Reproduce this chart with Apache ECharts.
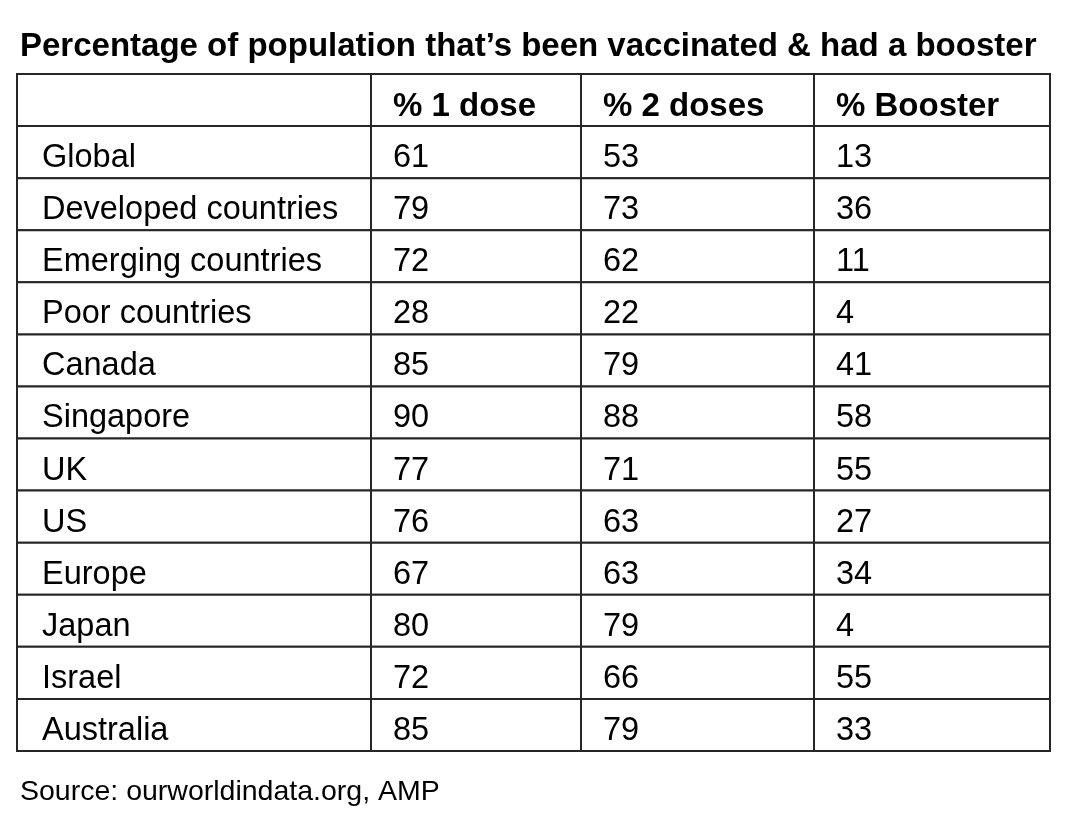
<!DOCTYPE html>
<html>
<head>
<meta charset="utf-8">
<script src="https://cdn.jsdelivr.net/npm/echarts@6/dist/echarts.min.js"></script>
<style>
  html, body { margin: 0; padding: 0; background: #fff; }
</style>
</head>
<body>
<div id="main" style="width:1077px;height:816px;"></div>
<script type="text/javascript">
	// 表格数据
	var headers = ['', '% 1 dose', '% 2 doses', '% Booster'];
	var regions = ['Global', 'Developed countries', 'Emerging countries', 'Poor countries', 'Canada',
		'Singapore', 'UK', 'US', 'Europe', 'Japan', 'Israel', 'Australia'];
	var oneDose = [61, 79, 72, 28, 85, 90, 77, 76, 67, 80, 72, 85];
	var twoDoses = [53, 73, 62, 22, 79, 88, 71, 63, 63, 79, 66, 79];
	var booster = [13, 36, 11, 4, 41, 58, 55, 27, 34, 4, 55, 33];

	// 列边界（像素），x 轴按像素刻度
	var colEdges = [0, 354, 564, 797, 1033];
	var font = '"Liberation Sans", Arial, sans-serif';

	// 行：表头 + 各地区
	var rows = ['header'].concat(regions);
	var cells = [];
	headers.forEach(function (h, c) { cells.push([c, 0, h, 1]); });
	regions.forEach(function (r, i) {
		cells.push([0, i + 1, r, 0]);
		cells.push([1, i + 1, String(oneDose[i]), 0]);
		cells.push([2, i + 1, String(twoDoses[i]), 0]);
		cells.push([3, i + 1, String(booster[i]), 0]);
	});

	var myEcharts = echarts.init(document.getElementById('main'));
	myEcharts.setOption({
		animation: false,
		title: [{
			text: 'Percentage of population that\u2019s been vaccinated & had a booster',
			left: 15, top: 25,
			textStyle: {fontFamily: font, fontSize: 33, fontWeight: 'bold', color: '#000', lineHeight: 33}
		}, {
			text: 'Source: ourworldindata.org, AMP',
			left: 15, top: 773,
			textStyle: {fontFamily: font, fontSize: 28.5, fontWeight: 'normal', color: '#000', lineHeight: 29}
		}],
		grid: {left: 17, right: 27, top: 74, bottom: 65},
		xAxis: {type: 'value', min: 0, max: colEdges[colEdges.length - 1], show: false},
		yAxis: {type: 'category', data: rows, inverse: true, show: false},
		series: [{
			type: 'custom',
			data: cells,
			renderItem: function (params, api) {
				var c = api.value(0);
				var r = api.value(1);
				var p0 = api.coord([colEdges[c], r]);
				var p1 = api.coord([colEdges[c + 1], r]);
				var h = api.size([0, 1])[1];
				var bold = cells[params.dataIndex][3] === 1;
				return {
					type: 'group',
					children: [{
						type: 'rect',
						shape: {x: p0[0], y: p0[1] - h / 2, width: p1[0] - p0[0], height: h},
						style: {fill: '#fff', stroke: '#262626', lineWidth: 2}
					}, {
						type: 'text',
						style: {
							x: p0[0] + (c === 0 ? 25 : 22), y: p0[1] + (bold ? 7 : 6),
							text: cells[params.dataIndex][2],
							fontFamily: font,
							fontSize: bold ? 33 : 32.5,
							fontWeight: bold ? 'bold' : 'normal',
							fill: '#000',
							verticalAlign: 'middle',
							align: 'left'
						}
					}]
				};
			}
		}]
	});
</script>
</body>
</html>
